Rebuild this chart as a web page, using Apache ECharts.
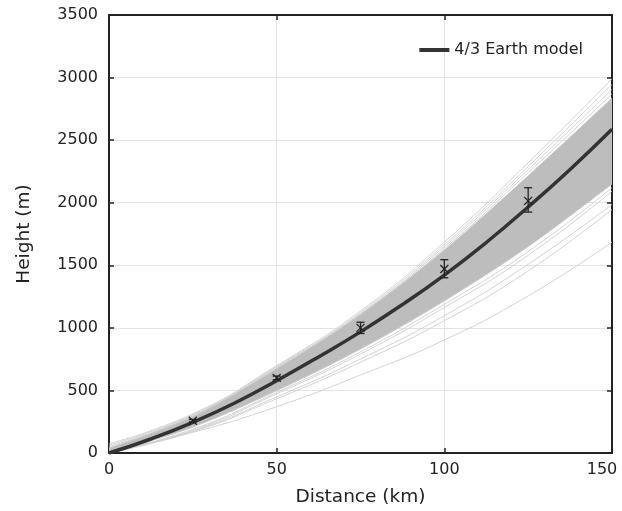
<!DOCTYPE html>
<html>
<head>
<meta charset="utf-8">
<script src="https://cdn.jsdelivr.net/npm/echarts@6/dist/echarts.min.js"></script>
<style>
  html, body { margin: 0; padding: 0; background: #fff; }
  #chart { width: 622px; height: 511px; }
</style>
</head>
<body>
<div id="chart"></div>
<script>
// distances (km) where the model curve was read
const modelDist = [0, 12.5, 25, 37.5, 50, 62.5, 75, 87.5, 100, 112.5, 125, 137.5, 150]
const modelHeight = [0, 112, 245, 400, 578, 768, 968, 1186, 1422, 1682, 1966, 2266, 2587]

// distances (km) where the gray fan was read
const fanDist = [0, 25, 50, 75, 100, 125, 150]
const denseLower = [0, 207, 499, 831, 1216, 1650, 2150]
const denseUpper = [35, 290, 672, 1105, 1620, 2215, 2835]

// single gray curves outside the dense band
const looseLines = [
  [74, 313, 698, 1135, 1685, 2320, 2990],
  [62, 307, 690, 1122, 1665, 2290, 2945],
  [50, 300, 683, 1112, 1648, 2265, 2905],
  [42, 296, 678, 1106, 1632, 2240, 2870],
  [5, 190, 484, 808, 1188, 1610, 2120],
  [3, 181, 473, 791, 1163, 1580, 2092],
  [15, 176, 448, 751, 1097, 1508, 1986],
  [0, 170, 433, 725, 1057, 1455, 1946],
  [10, 165, 370, 623, 903, 1255, 1685]
]

// measured points with error bars
const measDist = [25, 50, 75, 100, 125]
const measHeight = [258, 600, 1000, 1470, 2015]
const measLow = [248, 585, 955, 1400, 1925]
const measHigh = [268, 615, 1045, 1545, 2120]

const chart = echarts.init(document.getElementById('chart'))

const pairs = (xs, ys) => xs.map((x, i) => [x, ys[i]])

// catmull-rom through pixel points, as svg path commands
function curvePath(pts) {
  let d = ''
  for (let i = 0; i < pts.length - 1; i++) {
    const p0 = pts[Math.max(i - 1, 0)]
    const p1 = pts[i]
    const p2 = pts[i + 1]
    const p3 = pts[Math.min(i + 2, pts.length - 1)]
    const c1 = [p1[0] + (p2[0] - p0[0]) / 6, p1[1] + (p2[1] - p0[1]) / 6]
    const c2 = [p2[0] - (p3[0] - p1[0]) / 6, p2[1] - (p3[1] - p1[1]) / 6]
    d += ` C ${c1[0]} ${c1[1]} ${c2[0]} ${c2[1]} ${p2[0]} ${p2[1]}`
  }
  return d
}

const series = []

looseLines.forEach((ys) => {
  series.push({
    type: 'line',
    data: pairs(fanDist, ys),
    smooth: true,
    symbol: 'none',
    silent: true,
    lineStyle: { color: '#d2d2d2', width: 1 },
    z: 2
  })
})

// dense part of the fan, drawn as one filled shape
series.push({
  type: 'custom',
  silent: true,
  clip: true,
  data: [0],
  z: 3,
  renderItem: function (params, api) {
    const top = fanDist.map((d, i) => api.coord([d, denseUpper[i]]))
    const bottom = fanDist.map((d, i) => api.coord([d, denseLower[i]])).reverse()
    const d = `M ${top[0][0]} ${top[0][1]}` + curvePath(top) +
      ` L ${bottom[0][0]} ${bottom[0][1]}` + curvePath(bottom) + ' Z'
    return {
      type: 'path',
      shape: { pathData: d },
      style: { fill: '#bdbdbd', stroke: '#c6c6c6', lineWidth: 1 }
    }
  }
})

series.push({
  name: '4/3 Earth model',
  type: 'line',
  data: pairs(modelDist, modelHeight),
  smooth: true,
  symbol: 'none',
  lineStyle: { color: '#333333', width: 3.5 },
  z: 5
})

series.push({
  type: 'custom',
  data: measDist.map((d, i) => [d, measHeight[i], measLow[i], measHigh[i]]),
  z: 6,
  renderItem: function (params, api) {
    const p = api.coord([api.value(0), api.value(1)])
    const lo = api.coord([api.value(0), api.value(2)])
    const hi = api.coord([api.value(0), api.value(3)])
    const c = 4
    const m = 4
    const st = { stroke: '#222', lineWidth: 1.3 }
    return {
      type: 'group',
      children: [
        { type: 'line', shape: { x1: lo[0], y1: lo[1], x2: hi[0], y2: hi[1] }, style: st },
        { type: 'line', shape: { x1: lo[0] - c, y1: lo[1], x2: lo[0] + c, y2: lo[1] }, style: st },
        { type: 'line', shape: { x1: hi[0] - c, y1: hi[1], x2: hi[0] + c, y2: hi[1] }, style: st },
        { type: 'line', shape: { x1: p[0] - m, y1: p[1] - m, x2: p[0] + m, y2: p[1] + m }, style: st },
        { type: 'line', shape: { x1: p[0] - m, y1: p[1] + m, x2: p[0] + m, y2: p[1] - m }, style: st }
      ]
    }
  }
})

const axisFont = { fontFamily: 'DejaVu Sans', fontSize: 16, color: '#222' }
const nameFont = { fontFamily: 'DejaVu Sans', fontSize: 18.5, color: '#222' }
const frameLine = { show: true, onZero: false, lineStyle: { color: '#222', width: 2 } }
const frameTick = { show: true, inside: true, length: 5, lineStyle: { color: '#222', width: 1.5 } }

const option = {
  animation: false,
  textStyle: { fontFamily: 'DejaVu Sans' },
  grid: { left: 109, right: 10, top: 15, bottom: 58, outerBoundsMode: 'none', containLabel: false },
  legend: {
    data: ['4/3 Earth model'],
    right: 34,
    top: 37,
    itemWidth: 30,
    itemHeight: 4,
    icon: 'rect',
    itemGap: 9,
    textStyle: { fontFamily: 'DejaVu Sans', fontSize: 16, color: '#222' },
    itemStyle: { color: '#333' }
  },
  xAxis: [
    {
      type: 'value',
      min: 0,
      max: 150,
      interval: 50,
      name: 'Distance (km)',
      nameLocation: 'middle',
      nameGap: 35,
      nameTextStyle: nameFont,
      axisLine: frameLine,
      axisTick: frameTick,
      axisLabel: Object.assign({
        margin: 9,
        // the last label sits a little left of its tick so it stays on the page
        formatter: (v) => (v === 150 ? '{last|150}' : String(v)),
        rich: { last: { fontFamily: 'DejaVu Sans', fontSize: 16, color: '#222', padding: [0, 20, 0, 0] } }
      }, axisFont),
      splitLine: { show: true, lineStyle: { color: '#e3e3e3', width: 1 } }
    },
    {
      type: 'value',
      position: 'top',
      min: 0,
      max: 150,
      interval: 50,
      axisLine: frameLine,
      axisTick: frameTick,
      axisLabel: { show: false },
      splitLine: { show: false }
    }
  ],
  yAxis: [
    {
      type: 'value',
      min: 0,
      max: 3500,
      interval: 500,
      name: 'Height (m)',
      nameLocation: 'middle',
      nameGap: 75,
      nameTextStyle: nameFont,
      axisLine: frameLine,
      axisTick: frameTick,
      axisLabel: Object.assign({ margin: 11, formatter: (v) => String(v) }, axisFont),
      splitLine: { show: true, lineStyle: { color: '#e3e3e3', width: 1 } }
    },
    {
      type: 'value',
      position: 'right',
      min: 0,
      max: 3500,
      interval: 500,
      axisLine: frameLine,
      axisTick: frameTick,
      axisLabel: { show: false },
      splitLine: { show: false }
    }
  ],
  series: series
}

chart.setOption(option)
</script>
</body>
</html>
